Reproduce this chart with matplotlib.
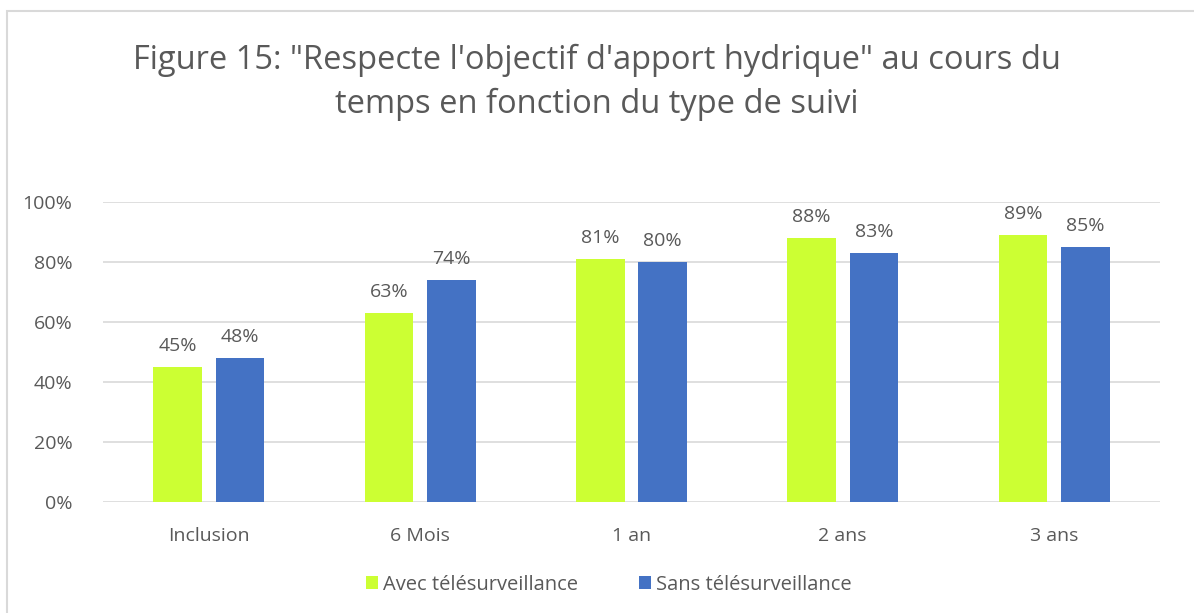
import matplotlib.pyplot as plt
import numpy as np
from matplotlib.patches import Rectangle

# Données
categories = ['Inclusion', '6 Mois', '1 an', '2 ans', '3 ans']
avec = [45, 63, 81, 88, 89]
sans = [48, 74, 80, 83, 85]
series_names = ['Avec télésurveillance', 'Sans télésurveillance']

vert = '#CCFF33'
bleu = '#4472C4'
gris = '#595959'

plt.rcParams['font.family'] = ['Open Sans', 'DejaVu Sans']

fig = plt.figure(figsize=(11.94, 6.13), dpi=100)
ax = fig.add_axes([0.0863, 0.181, 0.885, 0.4895])

x = np.arange(len(categories))
w = 0.23
gap = 0.065
b1 = ax.bar(x - (w + gap) / 2, avec, w, color=vert, label=series_names[0], zorder=3)
b2 = ax.bar(x + (w + gap) / 2, sans, w, color=bleu, label=series_names[1], zorder=3)

# Étiquettes de valeurs
for bars, vals in [(b1, avec), (b2, sans)]:
    for rect, v in zip(bars, vals):
        ax.text(rect.get_x() + rect.get_width() / 2, v + 4, f'{v}%',
                ha='center', va='bottom', fontsize=14, color=gris)

ax.set_xlim(-0.5, len(categories) - 0.5)
ax.set_ylim(0, 100)
ax.set_yticks(np.arange(0, 101, 20))
ax.set_yticklabels([f'{v}%' for v in range(0, 101, 20)])
ax.set_xticks(x)
ax.set_xticklabels(categories)
ax.tick_params(axis='both', length=0, labelsize=14, colors=gris)
ax.tick_params(axis='y', pad=22)
ax.tick_params(axis='x', pad=18)
ax.grid(axis='y', color='#D9D9D9', linewidth=1.2, zorder=0)
for s in ax.spines.values():
    s.set_visible(False)

fig.text(0.5, 0.866, 'Figure 15: "Respecte l\'objectif d\'apport hydrique" au cours du\ntemps en fonction du type de suivi',
         ha='center', va='center', fontsize=23.5, color=gris, linespacing=1.42)

leg = fig.legend(loc='center', bbox_to_anchor=(0.51, 0.046), ncol=2, frameon=False,
                 fontsize=14.5, handlelength=0.6, handleheight=0.6, handletextpad=0.25,
                 columnspacing=3.0)
for t in leg.get_texts():
    t.set_color(gris)

# Cadre du graphique
fig.patches.append(Rectangle((7 / 1194, -0.05), 1.2, 1 - 11 / 613 + 0.05,
                             transform=fig.transFigure, fill=False,
                             edgecolor='#D9D9D9', linewidth=1.5))

plt.savefig('out.png', dpi=100)
